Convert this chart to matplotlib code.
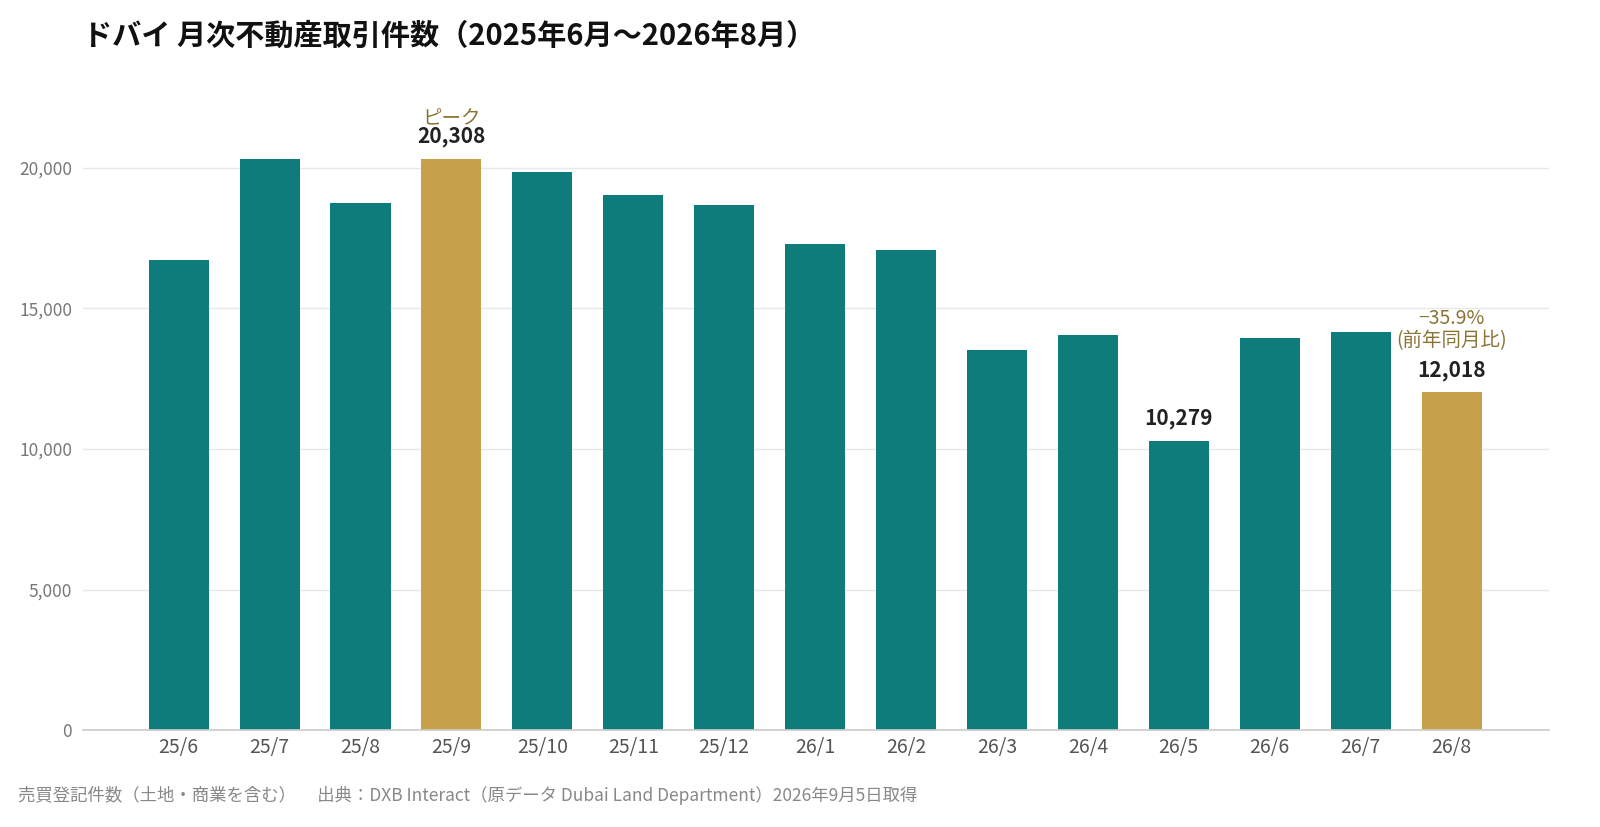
import matplotlib
matplotlib.use('Agg')
import matplotlib.pyplot as plt
import numpy as np

plt.rcParams['font.family'] = ['Noto Sans CJK JP', 'DejaVu Sans']

months = ['25/6', '25/7', '25/8', '25/9', '25/10', '25/11', '25/12',
          '26/1', '26/2', '26/3', '26/4', '26/5', '26/6', '26/7', '26/8']
counts = [16730, 20300, 18750, 20308, 19860, 19040, 18680,
          17300, 17080, 13520, 14060, 10279, 13950, 14160, 12018]
highlight = ['25/9', '26/8']
labeled = {'25/9': '20,308', '26/5': '10,279', '26/8': '12,018'}
yticks = [0, 5000, 10000, 15000, 20000]

teal = '#0e7c7b'
gold = '#c6a04a'
note = '#8a7434'

fig = plt.figure(figsize=(16, 8.27), dpi=100)
ax = fig.add_axes([0.052, 0.117, 0.916, 0.765])

x = np.arange(len(months))
colors = [gold if m in highlight else teal for m in months]
ax.bar(x, counts, width=0.66, color=colors, zorder=3)

for i, m in enumerate(months):
    if m in labeled:
        ax.text(i, counts[i] + 420, labeled[m], ha='center', va='bottom',
                fontsize=15, fontweight='bold', color='#222222', zorder=4)

ax.text(3, counts[3] + 1080, 'ピーク', ha='center', va='bottom',
        fontsize=14, color=note)
ax.text(14, counts[14] + 1450, '−35.9%\n(前年同月比)', ha='center', va='bottom',
        fontsize=14, color=note, linespacing=1.1)

ax.set_xlim(-1.05, 15.07)
ax.set_ylim(0, 22500)
ax.set_xticks(x)
ax.set_xticklabels(months, fontsize=14, color='#555555')
ax.set_yticks(yticks)
ax.set_yticklabels([f'{v:,}' for v in yticks], fontsize=12.5, color='#777777')
ax.tick_params(axis='x', length=0, pad=5)
ax.tick_params(axis='y', length=0, pad=8)
ax.yaxis.grid(True, color='#e8e8e8', linewidth=1, zorder=0)
for s in ['top', 'right', 'left']:
    ax.spines[s].set_visible(False)
ax.spines['bottom'].set_color('#cccccc')
ax.spines['bottom'].set_linewidth(1.2)
ax.spines['bottom'].set_zorder(5)

fig.text(0.052, 0.957, 'ドバイ 月次不動産取引件数（2025年6月〜2026年8月）',
         fontsize=21, fontweight='bold', color='#111111', va='center')
fig.text(0.011, 0.038,
         '売買登記件数（土地・商業を含む）　 出典：DXB Interact（原データ Dubai Land Department）2026年9月5日取得',
         fontsize=12.5, color='#888888', va='center')

fig.savefig('out.png', dpi=100)
